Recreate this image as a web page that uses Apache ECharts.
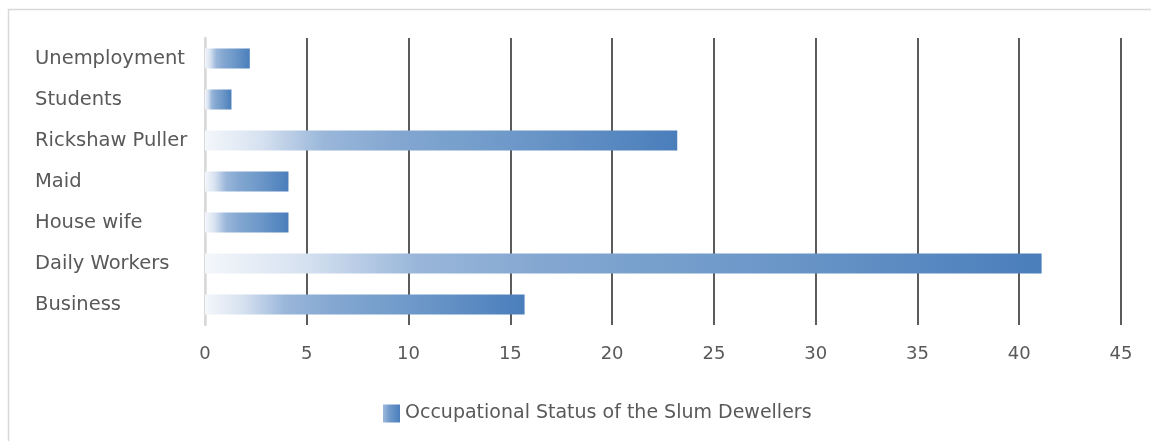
<!DOCTYPE html>
<html>
<head>
<meta charset="utf-8">
<script src="https://cdn.jsdelivr.net/npm/echarts@6/dist/echarts.min.js"></script>
<style>
html,body{margin:0;padding:0;background:#fff;}
#c{width:1151px;height:441px;}
</style>
</head>
<body>
<div id="c"></div>
<script>
var categories = ['Unemployment', 'Students', 'Rickshaw Puller', 'Maid', 'House wife', 'Daily Workers', 'Business'];
var values = [2.2, 1.3, 23.2, 4.1, 4.1, 41.1, 15.7];
var seriesName = 'Occupational Status of the Slum Dewellers';
var xTicks = [0, 5, 10, 15, 20, 25, 30, 35, 40, 45];

var FONT = 'DejaVu Sans';
var chart = echarts.init(document.getElementById('c'), null, {renderer: 'canvas'});

var grad = new echarts.graphic.LinearGradient(0, 0, 1, 0, [
  {offset: 0, color: '#f4f7fb'},
  {offset: 0.12, color: '#d6e1f0'},
  {offset: 0.25, color: '#9ab7da'},
  {offset: 0.4, color: '#84a7d1'},
  {offset: 0.55, color: '#769fcc'},
  {offset: 0.75, color: '#6491c5'},
  {offset: 1, color: '#4a7ebb'}
]);
var legendGrad = new echarts.graphic.LinearGradient(0, 0, 1, 0, [
  {offset: 0, color: '#9db9dc'},
  {offset: 0.4, color: '#6f99cb'},
  {offset: 1, color: '#4a7ebb'}
]);

var splitColors = xTicks.map(function (t, i) { return i === 0 ? '#d9d9d9' : '#333333'; });

chart.setOption({
  animation: false,
  backgroundColor: '#ffffff',
  graphic: [{
    type: 'rect',
    shape: {x: 8.5, y: 9.5, width: 1200, height: 500},
    style: {fill: 'none', stroke: '#d9d9d9', lineWidth: 1.5},
    silent: true,
    z: -10
  }],
  grid: {left: 205, right: 30, top: 38, bottom: 116, containLabel: false},
  legend: {
    data: [{name: seriesName, itemStyle: {color: legendGrad}}],
    left: 378,
    top: 399,
    itemWidth: 17,
    itemHeight: 18,
    itemGap: 5,
    textStyle: {fontFamily: FONT, fontSize: 19, color: '#595959'},
    icon: 'rect'
  },
  xAxis: {
    type: 'value',
    min: 0,
    max: 45,
    interval: 5,
    axisLine: {show: false},
    axisTick: {show: false},
    axisLabel: {
      fontFamily: FONT, fontSize: 18, color: '#595959', margin: 20,
      formatter: function (v) { return xTicks.indexOf(v) >= 0 ? String(v) : ''; }
    },
    splitLine: {show: true, lineStyle: {color: splitColors, width: 1.6}}
  },
  yAxis: {
    type: 'category',
    data: categories,
    inverse: true,
    axisLine: {show: true, lineStyle: {color: '#d9d9d9', width: 2.5}},
    axisTick: {show: false},
    axisLabel: {
      fontFamily: FONT, fontSize: 19.5, color: '#595959',
      align: 'left', margin: 170
    },
    splitLine: {show: false}
  },
  series: [{
    name: seriesName,
    type: 'bar',
    data: values,
    barWidth: 20,
    itemStyle: {color: grad}
  }]
});
</script>
</body>
</html>
